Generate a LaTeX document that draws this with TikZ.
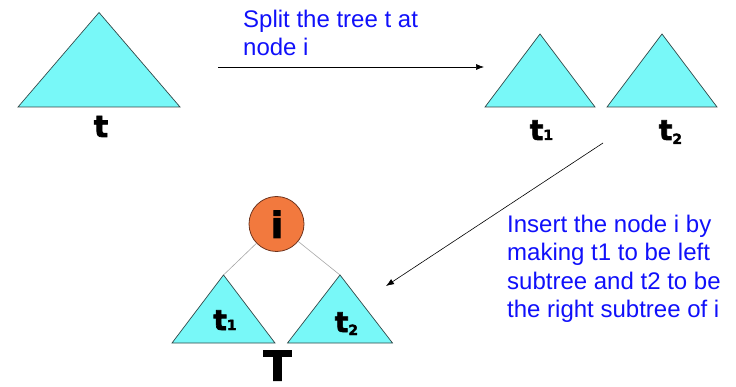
\documentclass[tikz,border=0pt]{standalone}
\usepackage{fontspec}
\usetikzlibrary{arrows.meta}
\setmainfont{Liberation Sans}
\newfontfamily\heavyfont{DejaVu Sans}[BoldFeatures={FakeBold=2.5}]
\definecolor{treecyan}{RGB}{120,248,248}
\definecolor{treeline}{RGB}{50,72,72}
\definecolor{rootorange}{RGB}{242,121,62}
\definecolor{rootline}{RGB}{110,52,30}
\definecolor{noteblue}{RGB}{16,16,250}
\begin{document}
\begin{tikzpicture}[x=1pt, y=-1pt,
    subtree/.style={fill=treecyan, draw=treeline, line width=0.7pt, line join=miter},
    lab/.style={font=\heavyfont\bfseries\fontsize{28}{30}\selectfont, inner sep=0pt, anchor=base},
    note/.style={text=noteblue, font=\fontsize{24}{28}\selectfont, align=left, anchor=north west, inner sep=0pt},
    move/.style={-{Latex[length=8pt, width=6pt]}, line width=0.6pt}]

    \useasboundingbox (0,0) rectangle (736,387);

    % Whole tree t
    \coordinate (ttop) at (99,12.5);
    \filldraw[subtree] (ttop) -- ++(-81,94.5) -- ++(162,0) -- cycle;
    \node[lab, font=\heavyfont\bfseries\fontsize{30}{32}\selectfont] (tlab) at (101,137) {t};

    % Split arrow
    \coordinate (splitA) at (218,67);
    \coordinate (splitB) at (484,67);
    \draw[move] (splitA) -- (splitB);
    \node[note] (splitnote) at (243,9.5) {Split the tree t at\\node i};

    % The two parts t1 and t2
    \coordinate (aTop) at (540,34);
    \coordinate (bTop) at (662,34);
    \filldraw[subtree] (aTop) -- ++(-55,73) -- ++(110,0) -- cycle;
    \filldraw[subtree] (bTop) -- ++(-55,73) -- ++(110,0) -- cycle;
    \node[lab] (alab) at (541.5,140) {t{\fontsize{14}{14}\selectfont 1}};
    \node[lab] (blab) at (670.5,140) {t{\fontsize{14}{14}\selectfont\raisebox{-4pt}{2}}};

    % Insert arrow
    \coordinate (insA) at (603,143);
    \coordinate (insB) at (386,286);
    \draw[move] (insA) -- (insB);
    \node[note, font=\fontsize{24}{28.5}\selectfont] (insnote) at (507,214.5)
        {Insert the node i by\\making t1 to be left\\subtree and t2 to be\\the right subtree of i};

    % New tree T with root i
    \coordinate (lTop) at (223.5,275);
    \coordinate (rTop) at (340,275);
    \filldraw[subtree] (lTop) -- ++(-51.5,68) -- ++(103,0) -- cycle;
    \filldraw[subtree] (rTop) -- ++(-52.5,68) -- ++(105,0) -- cycle;
    \node[circle, fill=rootorange, draw=rootline, line width=0.8pt, minimum size=55pt, inner sep=0pt] (root) at (276.5,224) {};
    \node[lab, font=\heavyfont\bfseries\fontsize{36}{38}\selectfont] (rootlab) at (277,238) {i};
    \draw[gray!70, line width=0.6pt] (root) -- (lTop);
    \draw[gray!70, line width=0.6pt] (root) -- (rTop);
    \node[lab] (llab) at (225,330) {t{\fontsize{14}{14}\selectfont 1}};
    \node[lab] (rlab) at (346.5,332) {t{\fontsize{14}{14}\selectfont\raisebox{-3pt}{2}}};
    \node[lab, font=\heavyfont\bfseries\fontsize{41}{43}\selectfont] (Tlab) at (277.5,380.5) {T};

\end{tikzpicture}
\end{document}
